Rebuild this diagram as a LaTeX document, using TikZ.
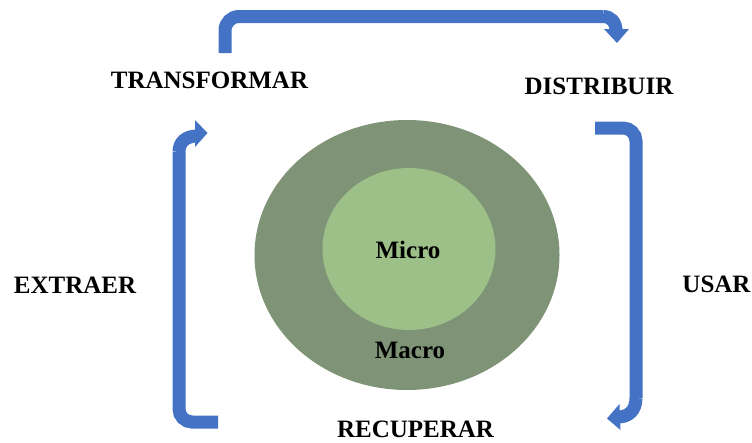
\documentclass[tikz,border=0pt]{standalone}
\usepackage{fontspec}
\setmainfont{Liberation Serif}
\usetikzlibrary{shapes.geometric}
\definecolor{flowblue}{HTML}{4472C4}
\definecolor{outergreen}{HTML}{7F9477}
\definecolor{innergreen}{HTML}{9CC087}
\tikzset{
  flow/.style={draw=flowblue, line width=13pt},
  flowhead/.style={fill=flowblue},
  stage/.style={font=\bfseries\fontsize{25}{28}\selectfont, inner sep=0pt, anchor=center},
}
\begin{document}
\begin{tikzpicture}[x=1pt,y=-1pt]
  \useasboundingbox (0,0) rectangle (752,442);
  % nested circles
  \node[ellipse, fill=outergreen, minimum width=305pt, minimum height=270pt, inner sep=0pt] (macroc) at (407,255) {};
  \node[ellipse, fill=innergreen, minimum width=173pt, minimum height=162pt, inner sep=0pt] (microc) at (409,249) {};
  \node[stage] (micro) at (408,249.5) {Micro};
  \node[stage] (macro) at (410,350.5) {Macro};
  % stage labels
  \node[stage] (transf) at (209.5,80.5) {TRANSFORMAR};
  \node[stage] (distr) at (599,86) {DISTRIBUIR};
  \node[stage] (extr) at (75,285) {EXTRAER};
  \node[stage] (usar) at (716.5,284) {USAR};
  \node[stage] (recup) at (415.5,429.5) {RECUPERAR};
  % top arrow: TRANSFORMAR -> DISTRIBUIR
  \coordinate (t0) at (225,53);
  \coordinate (t1) at (225,16.5);
  \coordinate (t2) at (603,16.5);
  \coordinate (t3) at (616,31);
  \draw[flow, rounded corners=14pt] (t0) -- (t1) -- (t2);
  \draw[flow] (t2) .. controls (611,16.5) and (616,22) .. (t3);
  \fill[flowhead] (604,29) -- (629,29) -- (617,43) -- cycle;
  % right arrow: DISTRIBUIR -> RECUPERAR
  \coordinate (r0) at (595,128);
  \coordinate (r1) at (636,128);
  \coordinate (r2) at (636,398);
  \coordinate (r3) at (618,417);
  \draw[flow, rounded corners=13pt] (r0) -- (r1) -- (r2);
  \draw[flow] (r2) .. controls (636,410) and (629,417) .. (r3);
  \fill[flowhead] (619.5,404) -- (620.5,430) -- (607,418.5) -- cycle;
  % left arrow: RECUPERAR -> TRANSFORMAR
  \coordinate (l0) at (218,422);
  \coordinate (l1) at (179,422);
  \coordinate (l2) at (179,152);
  \coordinate (l3) at (197,136);
  \draw[flow, rounded corners=13pt] (l0) -- (l1) -- (l2);
  \draw[flow] (l2) .. controls (179,142) and (186,136) .. (l3);
  \fill[flowhead] (195,120) -- (195,147) -- (207.5,133) -- cycle;
\end{tikzpicture}
\end{document}
